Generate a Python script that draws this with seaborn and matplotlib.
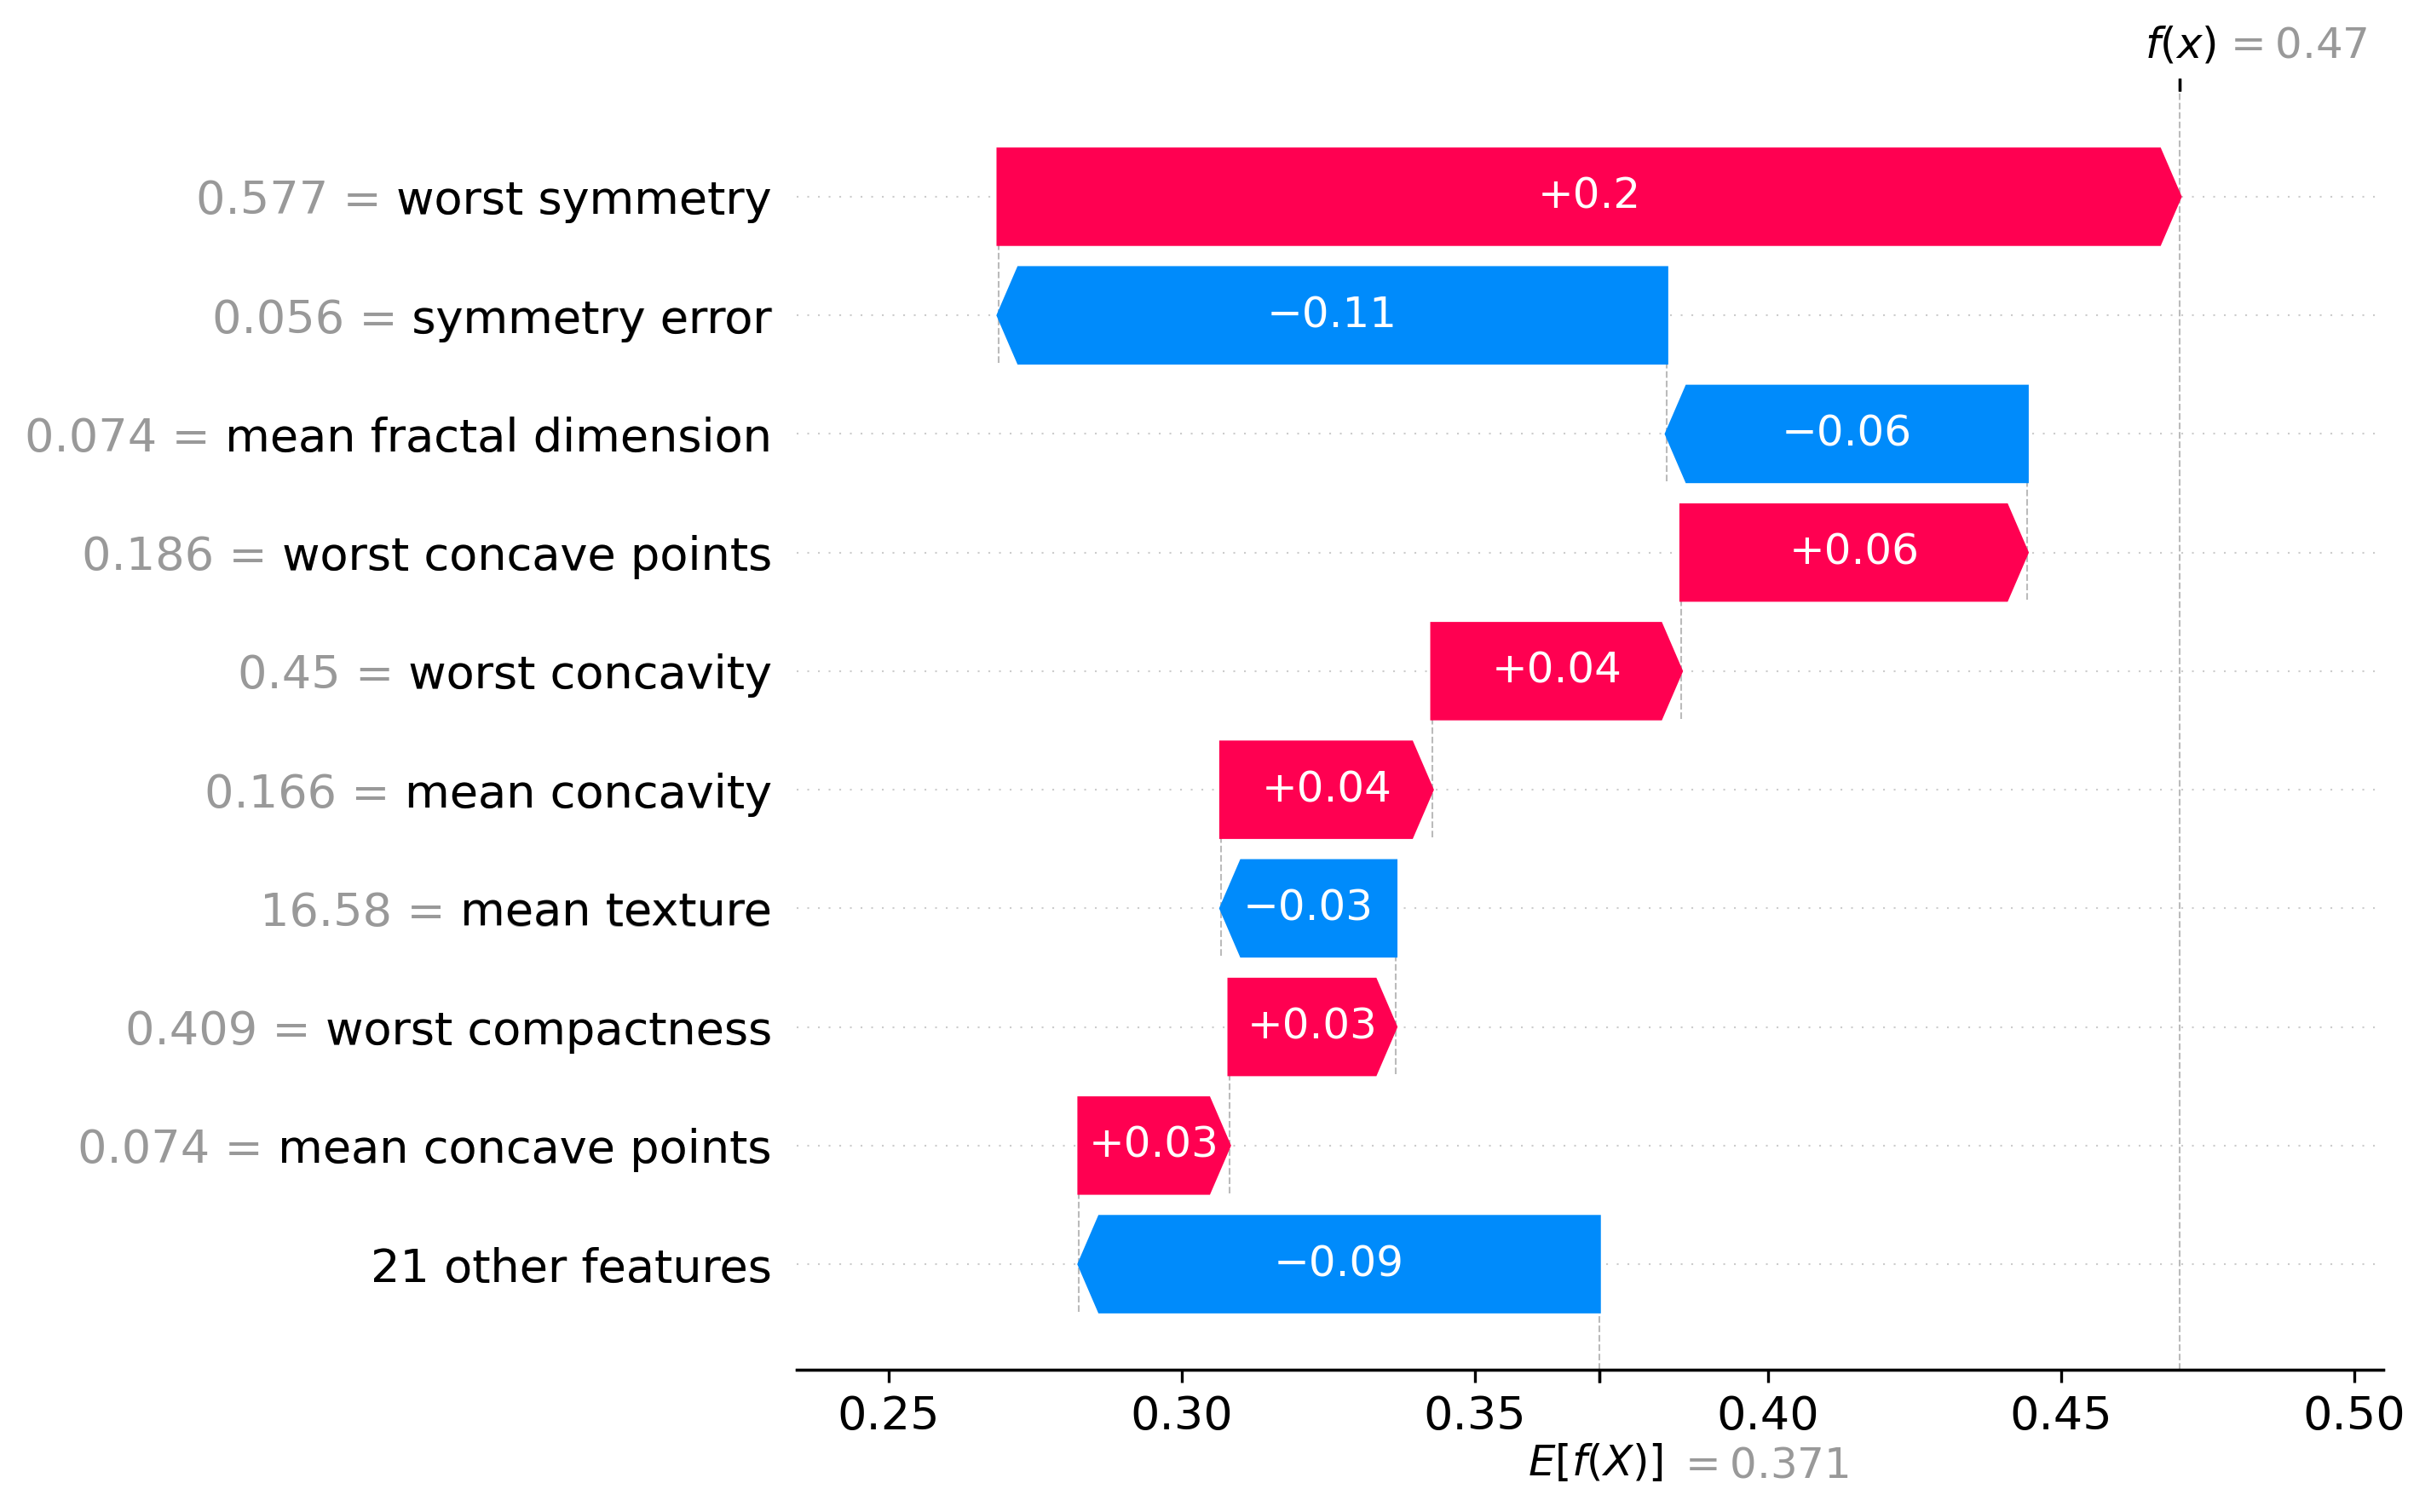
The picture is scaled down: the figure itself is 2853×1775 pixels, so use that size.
import re
import numpy as np
import matplotlib
matplotlib.use("Agg")
import matplotlib.pyplot as plt
import matplotlib.transforms as mtransforms
import seaborn as sns

# Dane (od góry do dołu)
FEATURE_NAMES = ["worst symmetry", "symmetry error", "mean fractal dimension",
                 "worst concave points", "worst concavity", "mean concavity",
                 "mean texture", "worst compactness", "mean concave points"]
FEATURE_VALUES = [0.577, 0.056, 0.074, 0.186, 0.45, 0.166, 16.58, 0.409, 0.074]
SHAP_VALUES = [0.2016, -0.1140, -0.0615, 0.0590, 0.0425, 0.0360, -0.0298, 0.0284, 0.0256]
OTHER_LABEL = "21 other features"
OTHER_VALUE = -0.0887
BASE_VALUE = 0.3712
XTICKS = [0.25, 0.30, 0.35, 0.40, 0.45, 0.50]
XLIM = (0.2343, 0.5050)

RED = (1.0, 0.0, 0.31796406)
BLUE = (0.0, 0.54337757, 0.98337906)


def format_value(v, fmt):
    s = fmt % v
    s = re.sub(r"\.?0+$", "", s)
    if s[0] == "-":
        s = "\u2212" + s[1:]
    return s


sns.set_style("ticks", rc={"axes.edgecolor": "black", "text.color": "black",
                           "xtick.color": "black", "ytick.color": "black",
                           "axes.labelcolor": "black"})
plt.rcParams["font.family"] = ["DejaVu Sans"]

fig = plt.figure(figsize=(2853 / 300, 1775 / 300), dpi=300)
fig.subplots_adjust(left=0.3277, right=0.9804, bottom=0.0941, top=0.9397)
ax = fig.add_subplot(111)

num_features = len(FEATURE_NAMES) + 1
rows = list(range(num_features - 1, -1, -1))
ax.set_xlim(*XLIM)
ax.set_ylim(-0.89, num_features - 1 + 0.89)

# --- wyliczenie pozycji strzałek ---
values = np.array(SHAP_VALUES + [OTHER_VALUE])
fx = BASE_VALUE + values.sum()
loc = fx
lefts, widths, inds, labels = [], [], [], [""] * num_features
for i, sval in enumerate(SHAP_VALUES):
    loc -= sval
    lefts.append(loc)
    widths.append(sval)
    inds.append(rows[i])
    ax.plot([loc, loc], [rows[i] - 1 - 0.4, rows[i] + 0.4], color="#bbbbbb",
            linestyle="--", linewidth=0.5, zorder=-1)
    labels[rows[i]] = format_value(FEATURE_VALUES[i], "%0.03f") + " = " + FEATURE_NAMES[i]

labels[0] = OTHER_LABEL
remaining = BASE_VALUE - loc
lefts.append(loc + remaining)
widths.append(-remaining)
inds.append(0)

# --- strzałki ---
head_length = 0.08
bar_width = 0.8
bbox = ax.get_window_extent().transformed(fig.dpi_scale_trans.inverted())
hl_scaled = (XLIM[1] - XLIM[0]) / bbox.width * head_length

for left, w, y in zip(lefts, widths, inds):
    color = RED if w >= 0 else BLUE
    sign = 1 if w >= 0 else -1
    ax.arrow(left, y, sign * max(abs(w) - hl_scaled, 1e-6), 0,
             head_length=min(abs(w), hl_scaled), color=color,
             width=bar_width, head_width=bar_width)
    ax.text(left + 0.5 * w, y, format_value(w, "%+0.02f"), ha="center",
            va="center", color="white", fontsize=12)

# --- etykiety osi Y (szare + czarne nazwy) ---
ytick_pos = list(range(num_features)) + list(np.arange(num_features) + 1e-8)
ax.set_yticks(ytick_pos)
ax.set_yticklabels(labels + [l.split("=")[-1] for l in labels], fontsize=13)
for i, t in enumerate(ax.yaxis.get_majorticklabels()):
    if i < num_features:
        t.set_color("#999999")

for i in range(num_features):
    ax.axhline(i, color="#cccccc", lw=0.5, dashes=(1, 5), zorder=-1)

ax.axvline(BASE_VALUE, 0, 1 / num_features, color="#bbbbbb", linestyle="--",
           linewidth=0.5, zorder=-1)
ax.axvline(fx, 0, 1, color="#bbbbbb", linestyle="--", linewidth=0.5, zorder=-1)

ax.set_xticks(XTICKS)
ax.set_xticklabels(["%.2f" % t for t in XTICKS])
ax.xaxis.set_ticks_position("bottom")
ax.yaxis.set_ticks_position("none")
sns.despine(ax=ax, left=True, top=True, right=True)
ax.tick_params(labelsize=13)

# --- znacznik E[f(X)] ---
ax2 = ax.twiny()
ax2.set_xlim(*XLIM)
ax2.xaxis.set_ticks_position("bottom")
ax2.xaxis.set_label_position("bottom")
ax2.set_xticks([BASE_VALUE, BASE_VALUE + 1e-8])
ax2.set_xticklabels(["\n$E[f(X)]$", "\n$ = " + format_value(BASE_VALUE, "%0.03f") + "$"],
                    fontsize=12, ha="left")
for s in ["right", "top", "left"]:
    ax2.spines[s].set_visible(False)
tl = ax2.xaxis.get_majorticklabels()
tl[0].set_transform(tl[0].get_transform() + mtransforms.ScaledTranslation(-20 / 72., 0, fig.dpi_scale_trans))
tl[1].set_transform(tl[1].get_transform() + mtransforms.ScaledTranslation(22 / 72., -1 / 72., fig.dpi_scale_trans))
tl[1].set_color("#999999")

# --- znacznik f(x) ---
ax3 = ax2.twiny()
ax3.set_xlim(*XLIM)
ax3.xaxis.set_ticks_position("top")
ax3.set_xticks([fx, fx + 1e-8])
ax3.set_xticklabels(["$f(x)$", "$ = " + format_value(fx, "%0.03f") + "$"],
                    fontsize=12, ha="left")
tl = ax3.xaxis.get_majorticklabels()
tl[0].set_transform(tl[0].get_transform() + mtransforms.ScaledTranslation(-10 / 72., 0, fig.dpi_scale_trans))
tl[1].set_transform(tl[1].get_transform() + mtransforms.ScaledTranslation(12 / 72., 0, fig.dpi_scale_trans))
tl[1].set_color("#999999")
for s in ["right", "top", "left", "bottom"]:
    ax3.spines[s].set_visible(False)

fig.savefig("out.png", dpi=300)
plt.close(fig)
